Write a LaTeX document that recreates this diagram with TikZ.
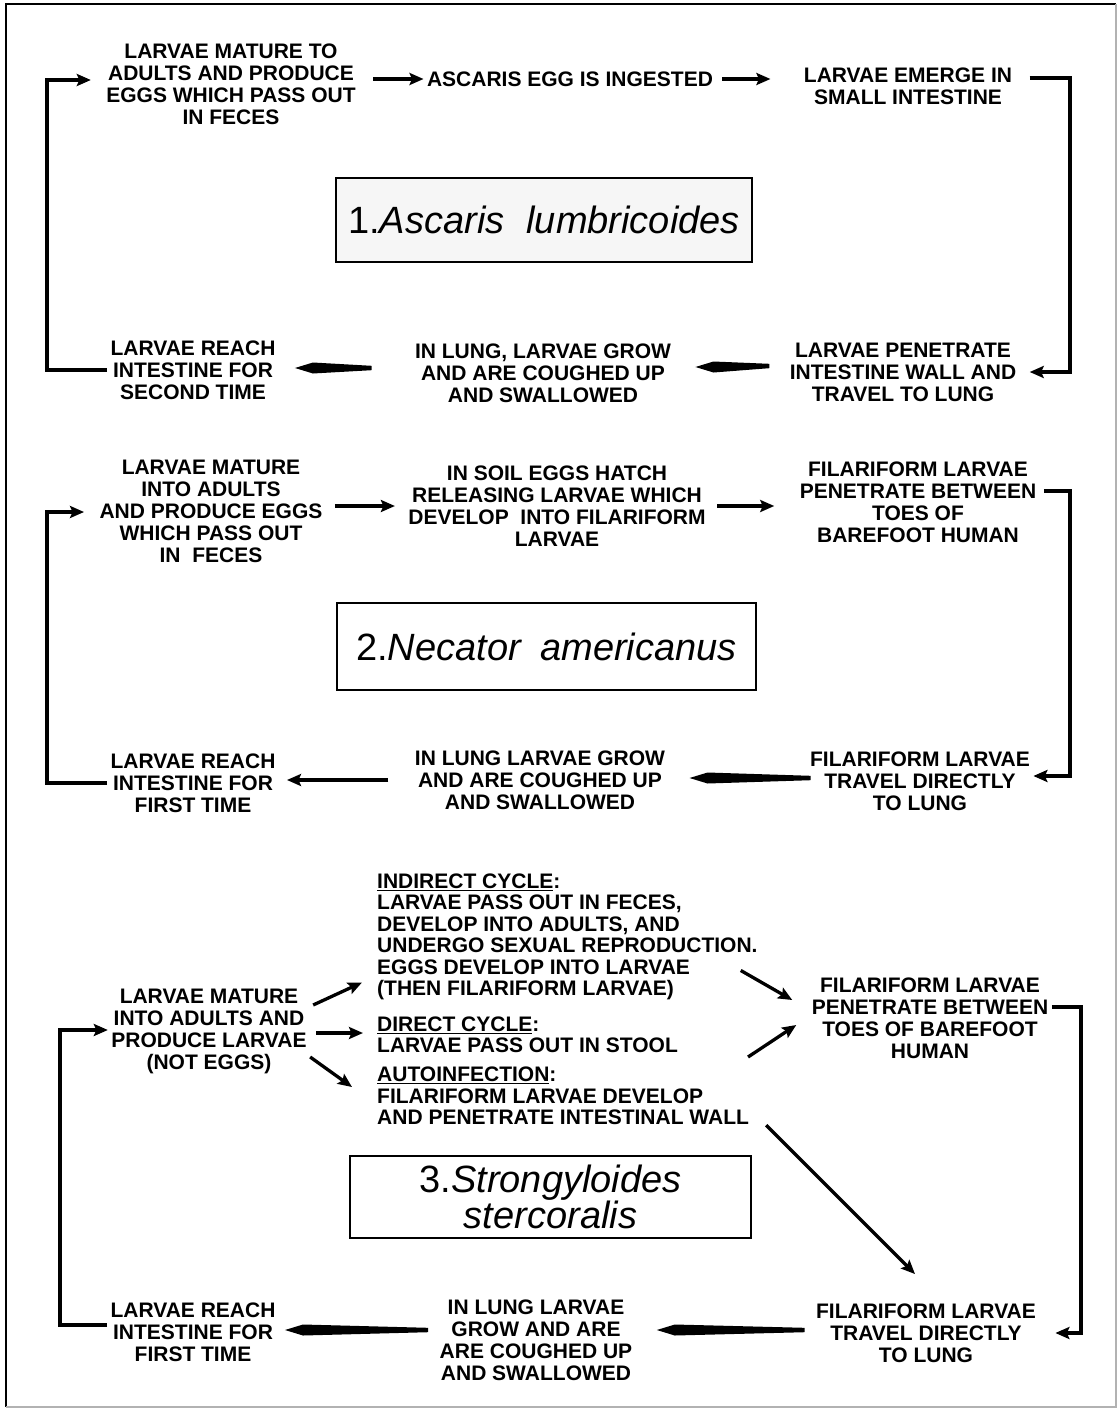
\documentclass[tikz,border=0pt]{standalone}
\usepackage{fontspec}
\setmainfont{Liberation Sans}
\usepackage{tikz}
\usetikzlibrary{arrows.meta, calc}

\begin{document}
\begin{tikzpicture}[
  x=1pt, y=-1pt,
  lbl/.style={align=center, font=\bfseries\fontsize{21}{22}\selectfont},
  cycletext/.style={align=left, anchor=west, inner sep=0pt,
                    font=\bfseries\fontsize{21}{21.5}\selectfont},
  titlebox/.style={draw, line width=1.8pt, inner sep=0pt, align=center,
                   font=\fontsize{38}{33}\selectfont},
  arrow/.style={-{Stealth[length=14pt, width=12pt, inset=2.5pt]}, line width=3.3pt},
  elbow/.style={arrow, line width=3.3pt},
  taper/.style 2 args={draw=none, fill=black, to path={
      let \p1=(\tikztostart), \p2=(\tikztotarget) in
      (\x1-#1,\y1-2.2pt) -- (\x2+#2+18pt,\y2-5.5pt) -- (\x2+#2,\y2)
      -- (\x2+#2+18pt,\y2+5.5pt) -- (\x1-#1,\y1+2.2pt) -- cycle}}
]
\useasboundingbox (0,0) rectangle (1119,1410);
\draw[line width=2.5pt] (1116,4) -- (6,4) -- (6,1407);
\draw[gray!60, line width=1.2pt] (1116,4) -- (1116,1407) -- (6,1407);

% 1. Ascaris
\node[lbl] (n1a) at (231,84) {LARVAE MATURE TO\\ADULTS AND PRODUCE\\EGGS WHICH PASS OUT\\IN FECES};
\node[lbl] (n1b) at (570,79) {ASCARIS EGG IS INGESTED};
\node[lbl] (n1c) at (908,86) {LARVAE EMERGE IN\\SMALL INTESTINE};
\node[titlebox, fill=gray!7, minimum width=416pt, minimum height=84pt] (t1) at (544,220)
  {1.\textit{Ascaris}\hspace{22pt}\textit{lumbricoides}};
\node[lbl] (n1d) at (193,370) {LARVAE REACH\\INTESTINE FOR\\SECOND TIME};
\node[lbl] (n1e) at (543,373) {IN LUNG, LARVAE GROW\\AND ARE COUGHED UP\\AND SWALLOWED};
\node[lbl] (n1f) at (903,372) {LARVAE PENETRATE\\INTESTINE WALL AND\\TRAVEL TO LUNG};

\coordinate (c1) at (1070,78);
\coordinate (c2) at (47,80);
\draw[arrow, shorten <=14pt] (n1a.east |- n1b.west) -- (n1b.west);
\draw[arrow, shorten <=6pt] (n1b.east) -- ([xshift=-30pt]n1c.west |- n1b.east);
\draw[elbow, shorten <=14pt, shorten >=10pt] (n1c.east |- c1) -- (c1) |- (n1f.east);
\draw[taper={17pt}{21pt}] ([yshift=6pt]n1f.west) to ([yshift=6pt]n1e.east);
\draw[taper={40pt}{16pt}] ([yshift=5pt]n1e.west) to ([yshift=2pt]n1d.east);
\draw[elbow, shorten >=12pt] (n1d.west) -| (c2) -- (n1a.west |- c2);

% 2. Necator
\node[lbl] (n2a) at (211,511) {LARVAE MATURE\\INTO ADULTS\\AND PRODUCE EGGS\\WHICH PASS OUT\\IN\ \ FECES};
\node[lbl] (n2b) at (557,506) {IN SOIL EGGS HATCH\\RELEASING LARVAE WHICH\\DEVELOP\ \ INTO FILARIFORM\\LARVAE};
\node[lbl] (n2c) at (918,502) {FILARIFORM LARVAE\\PENETRATE BETWEEN\\TOES OF\\BAREFOOT HUMAN};
\node[titlebox, fill=white, minimum width=419pt, minimum height=87pt] (t2) at (546.5,646.5)
  {2.\textit{Necator}\hspace{18pt}\textit{americanus}};
\node[lbl] (n2d) at (193,783) {LARVAE REACH\\INTESTINE FOR\\FIRST TIME};
\node[lbl] (n2e) at (540,780) {IN LUNG LARVAE GROW\\AND ARE COUGHED UP\\AND SWALLOWED};
\node[lbl] (n2f) at (920,781) {FILARIFORM LARVAE\\TRAVEL DIRECTLY\\TO LUNG};

\coordinate (c3) at (1070,491);
\coordinate (c4) at (47,512);
\draw[arrow, shorten <=9pt] (n2a.east |- n2b.west) -- ([xshift=-10pt]n2b.west);
\draw[arrow, shorten <=8pt] (n2b.east) -- ([xshift=-22pt]n2c.west |- n2b.east);
\draw[elbow, shorten <=4pt] (n2c.east |- c3) -- (c3) |- ([yshift=5pt]n2f.east);
\draw[taper={-4pt}{21pt}] ([yshift=3pt]n2f.west) to ([yshift=2pt]n2e.east);
\draw[arrow, shorten <=23pt, shorten >=8pt] (n2e.west) -- (n2d.east |- n2e.west);
\draw[elbow, shorten >=12pt] (n2d.west) -| (c4) -- (n2a.west |- c4);

% 3. Strongyloides
\node[lbl] (n3a) at (209,1031) {LARVAE MATURE\\INTO ADULTS AND\\PRODUCE LARVAE\\(NOT EGGS)};
\node[cycletext] (ind) at (377,937) {\underline{INDIRECT CYCLE}:\\LARVAE PASS OUT IN FECES,\\DEVELOP INTO ADULTS, AND\\UNDERGO SEXUAL REPRODUCTION.\\EGGS DEVELOP INTO LARVAE\\(THEN FILARIFORM LARVAE)};
\node[cycletext] (dir) at (377,1035) {\underline{DIRECT CYCLE}:\\LARVAE PASS OUT IN STOOL};
\node[cycletext] (autoinf) at (377,1096) {\underline{AUTOINFECTION}:\\FILARIFORM LARVAE DEVELOP\\AND PENETRATE INTESTINAL WALL};
\node[lbl] (n3c) at (930,1018) {FILARIFORM LARVAE\\PENETRATE BETWEEN\\TOES OF BAREFOOT\\HUMAN};
\node[titlebox, fill=white, minimum width=401pt, minimum height=82pt] (t3) at (550.5,1197)
  {3.\textit{Strongyloides}\\\textit{stercoralis}};
\node[lbl] (n3d) at (193,1332) {LARVAE REACH\\INTESTINE FOR\\FIRST TIME};
\node[lbl] (n3e) at (536,1340) {IN LUNG LARVAE\\GROW AND ARE\\ARE COUGHED UP\\AND SWALLOWED};
\node[lbl] (n3f) at (926,1333) {FILARIFORM LARVAE\\TRAVEL DIRECTLY\\TO LUNG};

\coordinate (c5) at (1081,1007);
\coordinate (c6) at (60,1030);
\draw[arrow] ([shift={(3,-26)}]n3a.east) -- ([shift={(-15,-18)}]ind.south west);
\draw[arrow] ([shift={(6,2)}]n3a.east) -- ([shift={(-14,-2)}]dir.west);
\draw[arrow] ([shift={(0,26)}]n3a.east) -- ([shift={(-25,-9)}]autoinf.west);
\draw[arrow] ([shift={(-17,-30)}]ind.south east) -- ([shift={(-16,-18)}]n3c.west);
\draw[arrow] ([shift={(70,22)}]dir.east) -- ([shift={(-12,7)}]n3c.west);
\draw[arrow] ([shift={(17,0)}]autoinf.south east) -- ([shift={(-11,-26)}]n3f.north);
\draw[elbow, shorten >=16pt] (n3c.east |- c5) -- (c5) |- (n3f.east);
\draw[taper={8pt}{21pt}] ([yshift=3pt]n3f.west) to ([yshift=10pt]n3e.east);
\draw[taper={8pt}{6pt}] ([yshift=10pt]n3e.west) to ([yshift=2pt]n3d.east);
\draw[elbow] ([yshift=7pt]n3d.west) -| (c6) -- (n3a.west |- c6);

\end{tikzpicture}
\end{document}
